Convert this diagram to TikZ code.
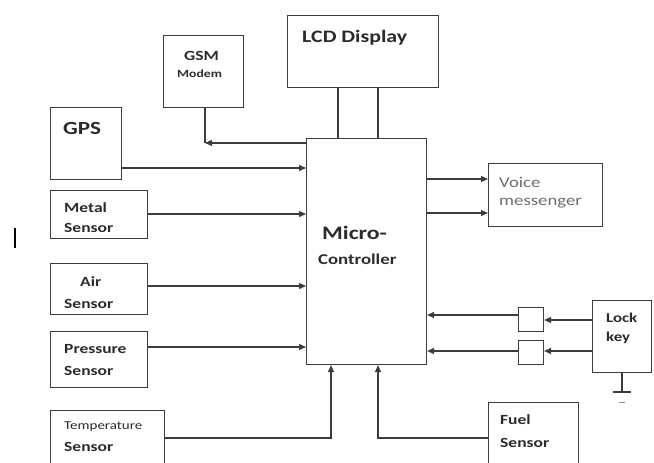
\documentclass[tikz,border=0pt]{standalone}
\usepackage{fontspec}
\setmainfont{Carlito}[FakeStretch=1.25]
\usetikzlibrary{arrows.meta}
\definecolor{ln}{HTML}{3C3C3C}
\definecolor{tx}{HTML}{2B2B2B}
\definecolor{tg}{HTML}{6E6E6E}
\begin{document}
\begin{tikzpicture}[x=1pt,y=-1pt,
  box/.style={draw=ln,line width=1.1pt,inner sep=0pt,anchor=north west},
  lbl/.style={inner sep=0pt,anchor=base west,text=tx,font=\bfseries},
  rlbl/.style={inner sep=0pt,anchor=base west,text=tg},
  wire/.style={draw=ln,line width=1.1pt},
  arr/.style={wire,-{Triangle[length=7pt,width=6pt]}}]
\clip (0,0) rectangle (654,463);
\fill[white] (0,0) rectangle (654,463);
% boxes
\node[box,minimum width=151pt,minimum height=72pt] (lcd) at (287,15) {};
\node[box,minimum width=80pt,minimum height=72pt] (gsm) at (163,35) {};
\node[box,minimum width=120pt,minimum height=226pt] (mc) at (306,138) {};
\node[box,minimum width=71pt,minimum height=72pt] (gps) at (50,107) {};
\node[box,minimum width=97pt,minimum height=48pt] (metal) at (50,190) {};
\node[box,minimum width=97pt,minimum height=51pt] (air) at (50,263) {};
\node[box,minimum width=97pt,minimum height=56pt] (press) at (50,331) {};
\node[box,minimum width=114pt,minimum height=70pt] (temp) at (50,410) {};
\node[box,minimum width=90pt,minimum height=70pt] (fuel) at (488,402) {};
\node[box,minimum width=114pt,minimum height=63pt] (voice) at (488,163) {};
\node[box,minimum width=59pt,minimum height=72pt] (lock) at (592,300) {};
\node[box,minimum width=25pt,minimum height=24pt] (sb1) at (518,307) {};
\node[box,minimum width=25pt,minimum height=24pt] (sb2) at (518,340) {};
% labels
\node[lbl,font=\bfseries\fontsize{17.5}{20}\selectfont] (tlcd) at (302,42) {LCD Display};
\node[lbl,font=\bfseries\fontsize{14}{16}\selectfont] (tgsm) at (184,60) {GSM};
\node[lbl,font=\bfseries\fontsize{11}{13}\selectfont] (tmodem) at (177,77) {Modem};
\node[lbl,font=\bfseries\fontsize{18.5}{20}\selectfont] (tgps) at (63,134) {GPS};
\node[lbl,font=\bfseries\fontsize{14}{16}\selectfont] (tmetal) at (64,212) {Metal};
\node[lbl,font=\bfseries\fontsize{14}{16}\selectfont] (tmetal2) at (64,232) {Sensor};
\node[lbl,font=\bfseries\fontsize{14}{16}\selectfont] (tair) at (80,286) {Air};
\node[lbl,font=\bfseries\fontsize{14}{16}\selectfont] (tair2) at (64,308) {Sensor};
\node[lbl,font=\bfseries\fontsize{14}{16}\selectfont] (tpress) at (64,353) {Pressure};
\node[lbl,font=\bfseries\fontsize{14}{16}\selectfont] (tpress2) at (64,375) {Sensor};
\node[rlbl,text=tx,font=\fontsize{12}{14}\selectfont] (ttemp) at (64,429) {Temperature};
\node[lbl,font=\bfseries\fontsize{14}{16}\selectfont] (ttemp2) at (64,451) {Sensor};
\node[lbl,font=\bfseries\fontsize{19}{22}\selectfont] (tmc) at (322,239) {Micro-};
\node[lbl,font=\bfseries\fontsize{15}{17}\selectfont] (tmc2) at (318,264) {Controller};
\node[rlbl,font=\fontsize{15}{17}\selectfont] (tvoice) at (499,187) {Voice};
\node[rlbl,font=\fontsize{15}{17}\selectfont] (tvoice2) at (499,205) {messenger};
\node[lbl,font=\bfseries\fontsize{13.5}{16}\selectfont] (tlock) at (606,322) {Lock};
\node[lbl,font=\bfseries\fontsize{13.5}{16}\selectfont] (tlock2) at (606,341) {key};
\node[lbl,font=\bfseries\fontsize{14}{16}\selectfont] (tfuel) at (500,424) {Fuel};
\node[lbl,font=\bfseries\fontsize{14}{16}\selectfont] (tfuel2) at (500,447) {Sensor};
% connectors
\draw[wire] (lcd.south -| 338,0) -- (mc.north -| 338,0);
\draw[wire] (lcd.south -| 378,0) -- (mc.north -| 378,0);
\coordinate (gsmc) at (205,143);
\draw[wire] (gsm.south -| gsmc) -- (gsmc);
\draw[arr] (mc.west |- gsmc) -- (gsmc);
\draw[arr] (gps.east |- 0,168) -- (mc.west |- 0,168);
\draw[arr] (metal.east |- 0,214) -- (mc.west |- 0,214);
\draw[arr] (air.east |- 0,286) -- (mc.west |- 0,286);
\draw[arr] (press.east |- 0,347) -- (mc.west |- 0,347);
\coordinate (tc) at (331,438);
\draw[arr] (temp.east |- tc) -- (tc) -- (mc.south -| tc);
\coordinate (fc) at (378,438);
\draw[arr] (fuel.west |- fc) -- (fc) -- (mc.south -| fc);
\draw[arr] (mc.east |- 0,179) -- (voice.west |- 0,179);
\draw[arr] (mc.east |- 0,213) -- (voice.west |- 0,213);
\draw[arr] (lock.west |- 0,320) -- (sb1.east |- 0,320);
\draw[arr] (sb1.west |- 0,315) -- (mc.east |- 0,315);
\draw[arr] (lock.west |- 0,351) -- (sb2.east |- 0,351);
\draw[arr] (sb2.west |- 0,351) -- (mc.east |- 0,351);
% ground
\coordinate (gnd) at (622,392);
\draw[wire] (lock.south -| gnd) -- (gnd);
\draw[wire] (613,392) -- (631,392);
\draw[draw=ln!60,line width=1pt] (619,402) -- (625,402);
% stray mark
\draw[black,line width=1.6pt] (15,228) -- (15,248);
\end{tikzpicture}
\end{document}
